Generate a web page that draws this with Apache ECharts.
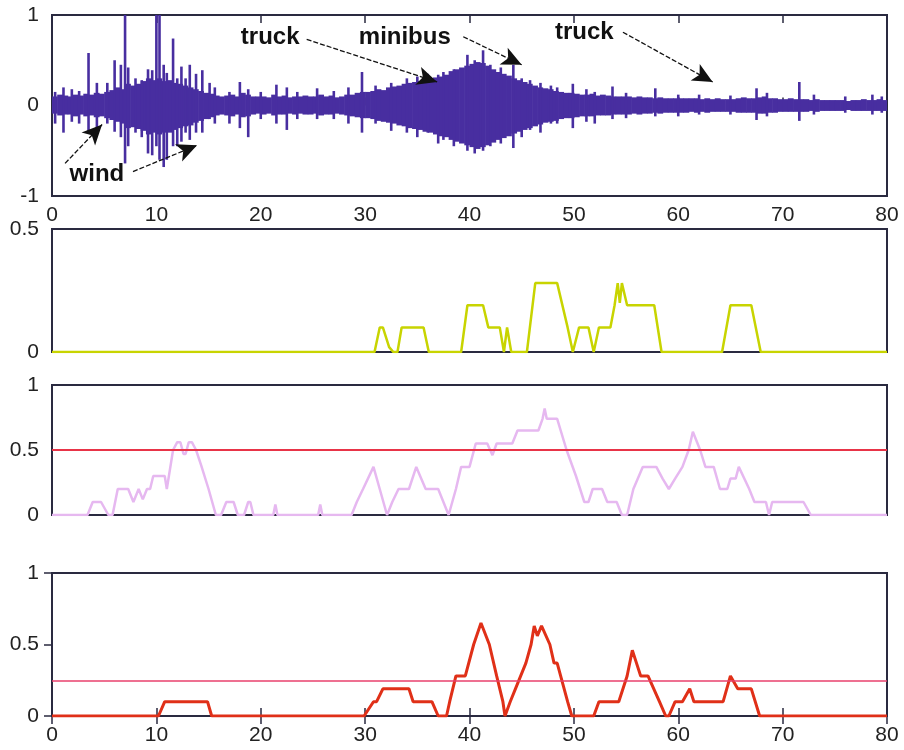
<!DOCTYPE html>
<html>
<head>
<meta charset="utf-8">
<script src="https://cdn.jsdelivr.net/npm/echarts@6/dist/echarts.min.js"></script>
<style>html,body{margin:0;padding:0;background:#fff}#c{width:904px;height:750px}</style>
</head>
<body>
<div id="c"></div>
<script>
// ---------- DATA ----------
const xTicks = [0, 10, 20, 30, 40, 50, 60, 70, 80];
const BIN = 0.5; // seconds per envelope bin
// waveform envelope per 0.5 s bin (upper / lower)
const waveHi = [
  0.10,0.12,0.11,0.10,0.12,0.11,0.13,0.12,0.14,0.13,
  0.15,0.17,0.20,0.18,0.24,0.22,0.24,0.27,0.30,0.28,
  0.30,0.27,0.28,0.25,0.24,0.22,0.20,0.18,0.16,0.14,
  0.13,0.11,0.10,0.11,0.12,0.10,0.14,0.12,0.10,0.10,
  0.10,0.09,0.12,0.10,0.11,0.09,0.10,0.10,0.11,0.10,
  0.10,0.12,0.10,0.11,0.09,0.10,0.12,0.12,0.14,0.15,
  0.15,0.16,0.18,0.17,0.20,0.21,0.22,0.24,0.25,0.26,
  0.27,0.28,0.30,0.31,0.32,0.34,0.38,0.40,0.42,0.44,
  0.46,0.48,0.47,0.44,0.40,0.37,0.35,0.33,0.30,0.28,
  0.26,0.24,0.22,0.20,0.19,0.18,0.16,0.15,0.14,0.14,
  0.13,0.12,0.12,0.13,0.11,0.12,0.11,0.10,0.10,0.10,
  0.10,0.09,0.10,0.09,0.09,0.08,0.09,0.08,0.08,0.08,
  0.08,0.08,0.08,0.08,0.07,0.08,0.07,0.08,0.07,0.07,
  0.07,0.08,0.09,0.08,0.08,0.09,0.10,0.08,0.08,0.07,
  0.07,0.08,0.07,0.07,0.07,0.06,0.07,0.06,0.06,0.06,
  0.06,0.06,0.05,0.06,0.06,0.07,0.06,0.06,0.07,0.06
];
const waveLo = [
  -0.09,-0.11,-0.10,-0.10,-0.12,-0.10,-0.12,-0.11,-0.13,-0.12,
  -0.14,-0.16,-0.18,-0.20,-0.25,-0.24,-0.26,-0.28,-0.32,-0.30,
  -0.32,-0.30,-0.30,-0.27,-0.25,-0.23,-0.22,-0.19,-0.17,-0.15,
  -0.13,-0.11,-0.10,-0.11,-0.12,-0.10,-0.13,-0.12,-0.10,-0.09,
  -0.10,-0.09,-0.11,-0.10,-0.10,-0.09,-0.10,-0.09,-0.10,-0.10,
  -0.09,-0.11,-0.10,-0.10,-0.09,-0.10,-0.11,-0.12,-0.13,-0.14,
  -0.14,-0.15,-0.17,-0.18,-0.19,-0.20,-0.22,-0.23,-0.25,-0.26,
  -0.27,-0.29,-0.30,-0.32,-0.34,-0.35,-0.38,-0.40,-0.42,-0.44,
  -0.46,-0.48,-0.46,-0.44,-0.41,-0.38,-0.36,-0.34,-0.31,-0.29,
  -0.27,-0.25,-0.23,-0.21,-0.19,-0.18,-0.17,-0.15,-0.14,-0.14,
  -0.13,-0.12,-0.12,-0.12,-0.11,-0.11,-0.11,-0.10,-0.10,-0.10,
  -0.10,-0.09,-0.10,-0.09,-0.09,-0.08,-0.09,-0.08,-0.08,-0.08,
  -0.08,-0.08,-0.07,-0.08,-0.07,-0.08,-0.07,-0.07,-0.07,-0.07,
  -0.07,-0.08,-0.08,-0.08,-0.08,-0.09,-0.09,-0.08,-0.08,-0.07,
  -0.07,-0.07,-0.07,-0.07,-0.07,-0.06,-0.07,-0.06,-0.06,-0.06,
  -0.06,-0.06,-0.05,-0.06,-0.06,-0.06,-0.06,-0.06,-0.06,-0.06
];
// individual spikes: time, top, bottom
const spikeT  = [0.3,1.1,1.9,2.6,3.5,4.3,5.3,6.0,6.6,7.0,7.3,8.0,8.6,9.2,9.6,10.0,10.3,10.7,11.0,11.6,12.0,12.4,12.8,13.2,13.8,14.4,15.1,15.6,17.0,18.0,18.8,20.0,21.5,22.5,23.5,25.4,27.0,28.4,29.7,31.0,32.5,34.0,35.0,36.0,37.0,37.5,38.5,39.8,40.5,41.3,42.0,43.0,44.2,45.0,45.8,46.8,47.8,48.4,49.9,51.2,52.0,53.7,55.0,57.8,60.0,62.0,65.0,67.5,68.5,71.6,73.0,76.0,78.6,79.5];
const spikeHi = [0.15,0.20,0.18,0.16,0.58,0.25,0.25,0.50,0.45,1.00,0.42,0.30,0.28,0.40,0.39,1.00,1.00,0.45,0.36,0.74,0.30,0.43,0.30,0.45,0.35,0.39,0.25,0.20,0.15,0.26,0.18,0.15,0.23,0.20,0.15,0.19,0.16,0.20,0.37,0.22,0.25,0.30,0.32,0.35,0.34,0.37,0.40,0.56,0.50,0.61,0.45,0.42,0.45,0.30,0.28,0.25,0.22,0.20,0.24,0.18,0.15,0.21,0.14,0.19,0.12,0.12,0.11,0.19,0.14,0.26,0.12,0.10,0.12,0.10];
const spikeLo = [-0.20,-0.30,-0.18,-0.20,-0.30,-0.25,-0.20,-0.29,-0.35,-0.64,-0.45,-0.30,-0.35,-0.53,-0.55,-0.45,-0.60,-0.68,-0.60,-0.45,-0.45,-0.40,-0.30,-0.38,-0.30,-0.30,-0.15,-0.20,-0.20,-0.25,-0.35,-0.15,-0.20,-0.27,-0.15,-0.15,-0.15,-0.20,-0.30,-0.20,-0.28,-0.30,-0.35,-0.30,-0.42,-0.38,-0.45,-0.50,-0.53,-0.50,-0.45,-0.42,-0.47,-0.35,-0.27,-0.30,-0.20,-0.20,-0.25,-0.18,-0.20,-0.15,-0.14,-0.12,-0.12,-0.10,-0.10,-0.16,-0.12,-0.17,-0.10,-0.08,-0.10,-0.08];

// panel 2 (yellow) trace [t, value]
const trace2 = [[0,0],[30.9,0],[31.4,0.1],[31.7,0.1],[32.3,0.02],[32.7,0],[33.1,0],[33.5,0.1],[35.6,0.1],[36.1,0],[39.2,0],[39.8,0.19],[41.3,0.19],[41.8,0.1],[42.9,0.1],[43.3,0],[43.6,0.1],[44.0,0],[45.5,0],[46.3,0.28],[48.4,0.28],[49.4,0.1],[49.9,0],[50.5,0.1],[51.4,0.1],[51.9,0],[52.4,0.1],[53.5,0.1],[53.9,0.19],[54.2,0.28],[54.4,0.2],[54.6,0.28],[55.1,0.19],[57.7,0.19],[58.4,0],[64.2,0],[65.0,0.19],[67.0,0.19],[67.9,0],[80,0]];
// panel 3 (lavender) trace
const trace3 = [[0,0],[3.4,0],[3.9,0.1],[4.7,0.1],[5.4,0],[5.8,0],[6.3,0.2],[7.3,0.2],[7.8,0.1],[8.3,0.2],[8.7,0.12],[9.1,0.2],[9.4,0.2],[9.7,0.3],[10.8,0.3],[11.0,0.2],[11.6,0.5],[12.0,0.56],[12.3,0.56],[12.6,0.47],[12.8,0.47],[13.1,0.56],[13.4,0.56],[13.8,0.5],[14.3,0.38],[15.0,0.2],[15.7,0],[16.2,0],[16.7,0.1],[17.4,0.1],[17.8,0],[18.4,0],[18.8,0.1],[19.0,0.1],[19.3,0],[21.2,0],[21.4,0.08],[21.6,0],[25.5,0],[25.7,0.08],[25.9,0],[28.7,0],[29.2,0.1],[29.8,0.2],[30.8,0.37],[31.4,0.2],[32.1,0],[32.6,0.1],[33.2,0.2],[34.2,0.2],[34.9,0.37],[35.8,0.2],[37.0,0.2],[38.0,0],[38.7,0.2],[39.2,0.37],[40.0,0.37],[40.6,0.55],[41.7,0.55],[42.2,0.46],[42.6,0.55],[44.1,0.55],[44.6,0.65],[46.6,0.65],[47.0,0.74],[47.2,0.82],[47.4,0.74],[48.4,0.74],[49.3,0.5],[50.2,0.3],[50.6,0.2],[51.0,0.1],[51.4,0.1],[51.8,0.2],[52.7,0.2],[53.2,0.1],[54.1,0.1],[54.6,0],[55.1,0],[55.7,0.2],[56.6,0.37],[57.9,0.37],[58.5,0.28],[59.1,0.2],[59.7,0.28],[60.4,0.37],[61.0,0.5],[61.4,0.64],[62.1,0.5],[62.6,0.37],[63.4,0.37],[64.0,0.2],[64.7,0.2],[65.0,0.28],[65.5,0.28],[65.8,0.37],[66.8,0.2],[67.3,0.1],[68.4,0.1],[68.7,0],[69.0,0.1],[71.2,0.1],[72.0,0.1],[72.7,0],[80,0]];
// panel 4 (red) trace
const trace4 = [[0,0],[10.2,0],[10.8,0.1],[14.9,0.1],[15.3,0],[29.9,0],[30.8,0.1],[31.1,0.1],[31.7,0.19],[34.2,0.19],[34.6,0.1],[36.4,0.1],[37.0,0],[37.8,0],[38.1,0.1],[38.7,0.28],[39.6,0.28],[40.4,0.5],[41.1,0.65],[41.9,0.5],[42.6,0.28],[43.2,0.1],[43.4,0],[43.9,0.1],[44.4,0.19],[45.4,0.37],[45.9,0.5],[46.2,0.63],[46.5,0.56],[46.9,0.63],[47.7,0.5],[48.1,0.37],[48.4,0.37],[49.4,0.1],[49.8,0],[51.9,0],[52.4,0.1],[54.3,0.1],[55.1,0.28],[55.6,0.46],[56.0,0.37],[56.4,0.28],[57.1,0.28],[58.2,0.1],[58.8,0],[59.1,0],[59.7,0.1],[60.4,0.1],[61.1,0.19],[61.5,0.1],[64.3,0.1],[65.0,0.28],[65.7,0.19],[67.0,0.19],[67.8,0],[80,0]];
const thresh3 = 0.5;
const thresh4 = 0.25;

// annotations on panel 1
const annoText = ['truck', 'minibus', 'truck', 'wind'];
const annoTextAt = [[20.9, 0.757], [33.8, 0.757], [51.0, 0.81], [4.3, -0.76]];
const annoArrows = [
  [[24.4, 0.73], [36.9, 0.26]],
  [[39.4, 0.76], [45.0, 0.45]],
  [[54.7, 0.81], [63.3, 0.26]],
  [[1.25, -0.64], [4.8, -0.21]],
  [[7.76, -0.73], [13.9, -0.44]]
];

// ---------- STYLE ----------
const FONT = "'Liberation Sans', Arial, sans-serif";
const FRAME = '#2a2a40';
const WAVE = '#482ea0';
const grids = [
  { left: 52, right: 17, top: 15, height: 181 },
  { left: 52, right: 17, top: 229, height: 123 },
  { left: 52, right: 17, top: 385, height: 130 },
  { left: 52, right: 17, top: 573, height: 143 }
].map(g => Object.assign({ show: true, borderColor: FRAME, borderWidth: 2, backgroundColor: '#fff', containLabel: false }, g));

function xAxis(grid, pos, labels, ticks) {
  return {
    type: 'value', gridIndex: grid, position: pos, min: 0, max: 80, interval: 10,
    axisLine: { show: false }, splitLine: { show: false },
    axisTick: { show: ticks, inside: true, length: 8, lineStyle: { color: FRAME, width: 1.5 } },
    axisLabel: { show: labels, fontSize: 21, color: '#222', fontFamily: FONT, margin: 9 }
  };
}
function yAxis(grid, min, max, interval, pos, labels, ticks) {
  return {
    type: 'value', gridIndex: grid, position: pos || 'left', min, max, interval,
    axisLine: { show: false }, splitLine: { show: false },
    axisTick: { show: !!ticks, inside: true, length: 8, lineStyle: { color: FRAME, width: 1.5 } },
    axisLabel: { show: labels, fontSize: 21, color: '#222', fontFamily: FONT, margin: 13 }
  };
}

const waveData = waveHi.map((h, i) => [i * BIN, h, waveLo[i]]);
const spikeData = spikeT.map((t, i) => [t, spikeHi[i], spikeLo[i]]);

const option = {
  backgroundColor: '#fff',
  animation: false,
  grid: grids,
  xAxis: [
    xAxis(0, 'bottom', true, true),
    xAxis(0, 'top', false, true),
    xAxis(1, 'bottom', false, false),
    xAxis(2, 'bottom', false, false),
    xAxis(3, 'bottom', true, true),
    xAxis(3, 'top', false, true)
  ],
  yAxis: [
    yAxis(0, -1, 1, 1, 'left', true, false),
    yAxis(1, 0, 0.5, 0.5, 'left', true, false),
    yAxis(2, 0, 1, 0.5, 'left', true, false),
    yAxis(3, 0, 1, 0.5, 'left', true, false),
    yAxis(3, 0, 1, 0.5, 'right', false, true)
  ],
  series: [
    {
      type: 'custom', xAxisIndex: 0, yAxisIndex: 0, data: waveData, clip: true,
      renderItem: function (params, api) {
        const t = api.value(0), hi = api.value(1), lo = api.value(2);
        const p1 = api.coord([t, hi]);
        const p2 = api.coord([t + BIN, lo]);
        return { type: 'rect', shape: { x: p1[0], y: p1[1], width: p2[0] - p1[0] + 0.6, height: p2[1] - p1[1] }, style: { fill: WAVE } };
      }
    },
    {
      type: 'custom', xAxisIndex: 0, yAxisIndex: 0, data: spikeData, clip: true,
      renderItem: function (params, api) {
        const t = api.value(0);
        const p1 = api.coord([t, api.value(1)]);
        const p2 = api.coord([t, api.value(2)]);
        return { type: 'line', shape: { x1: p1[0], y1: p1[1], x2: p2[0], y2: p2[1] }, style: { stroke: WAVE, lineWidth: 2.6 } };
      },
      markLine: {
        silent: true, animation: false,
        symbol: ['none', 'arrow'], symbolSize: [14, 20],
        lineStyle: { color: '#111', width: 1.3, type: [5, 2] },
        label: { show: false },
        data: annoArrows.map(a => [{ coord: a[0] }, { coord: a[1] }])
      },
      markPoint: {
        silent: true, animation: false,
        symbol: 'rect', symbolSize: 1, itemStyle: { color: 'rgba(0,0,0,0)' },
        label: { show: true, position: 'inside', fontSize: 24, fontWeight: 'bold', color: '#111', fontFamily: FONT, formatter: p => p.name },
        data: annoText.map((n, i) => ({ name: n, coord: annoTextAt[i] }))
      }
    },
    {
      type: 'line', xAxisIndex: 2, yAxisIndex: 1, data: trace2, showSymbol: false,
      lineStyle: { color: '#c8d400', width: 2.5 }
    },
    {
      type: 'line', xAxisIndex: 3, yAxisIndex: 2, data: trace3, showSymbol: false,
      lineStyle: { color: '#e6b8f0', width: 2.5 },
      markLine: {
        silent: true, symbol: 'none', animation: false, label: { show: false },
        lineStyle: { color: '#e83448', width: 2, type: 'solid' },
        data: [{ yAxis: thresh3 }]
      }
    },
    {
      type: 'line', xAxisIndex: 4, yAxisIndex: 3, data: trace4, showSymbol: false, z: 3,
      lineStyle: { color: '#e03018', width: 3 },
      markLine: {
        silent: true, symbol: 'none', animation: false, label: { show: false },
        lineStyle: { color: '#e8406c', width: 1.5, type: 'solid' },
        data: [{ yAxis: thresh4 }]
      }
    }
  ]
};
const chart = echarts.init(document.getElementById('c'), null, { renderer: 'canvas' });
chart.setOption(option);
</script>
</body>
</html>
